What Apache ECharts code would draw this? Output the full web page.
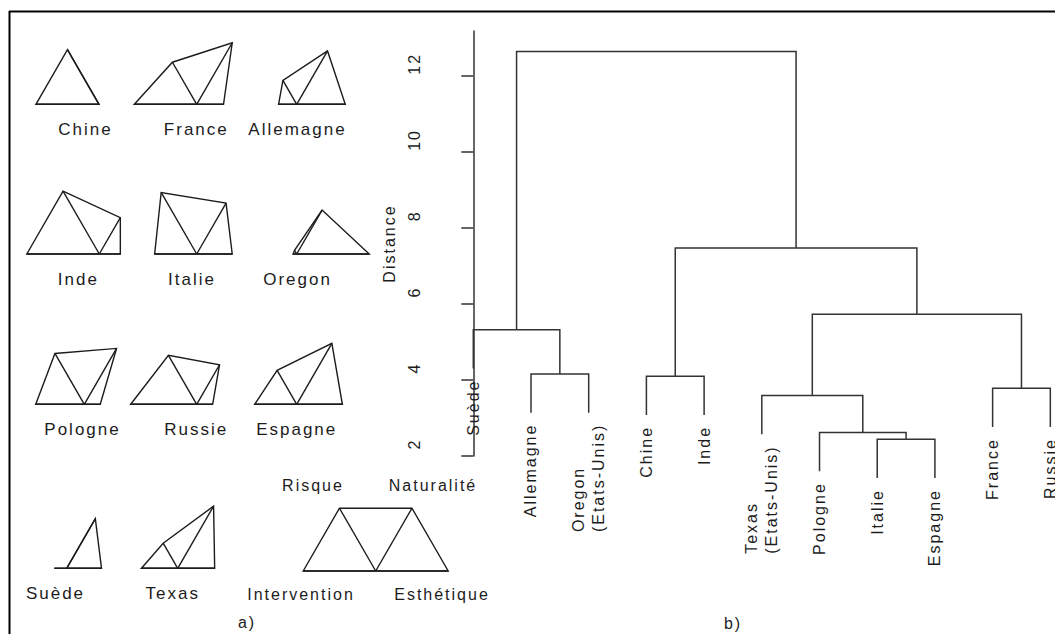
<!DOCTYPE html>
<html>
<head>
<meta charset="utf-8">
<script src="https://cdn.jsdelivr.net/npm/echarts@6/dist/echarts.min.js"></script>
<style>
html,body{margin:0;padding:0;background:#fff;}
#chart{width:1055px;height:634px;}
#chart text{letter-spacing:2px;}
</style>
</head>
<body>
<div id="chart"></div>
<script>
// ---------- a) star glyphs : relative scores (0..1) ----------
const glyphNames   = ['Chine','France','Allemagne','Inde','Italie','Oregon','Pologne','Russie','Espagne','Suède','Texas'];
const intervention = [0.87, 0.86, 0.25, 1.00, 0.58, 0.05, 0.67, 0.91, 0.58, 0.17, 0.50];
const risque       = [0.87, 0.67, 0.38, 1.00, 0.98, 0.06, 0.81, 0.78, 0.54, 0.00, 0.40];
const naturalite   = [0.00, 0.98, 0.85, 0.58, 0.81, 0.70, 0.89, 0.63, 0.97, 0.79, 0.99];
const esthetique   = [0.00, 0.37, 0.67, 0.29, 0.49, 1.00, 0.22, 0.22, 0.63, 0.48, 0.51];
const keyNames     = ['Intervention','Risque','Naturalité','Esthétique'];
const keyValues    = [1, 1, 1, 1];

// ---------- b) dendrogram ----------
const leafLabels  = ['Suède','Allemagne','Oregon\n(Etats-Unis)','Chine','Inde','Texas\n(Etats-Unis)','Pologne','Italie','Espagne','France','Russie'];
// merge children: negative = leaf number (1-based, in plotting order), positive = earlier merge (1-based)
const mergeLeft   = [-8, -7, -6, -10, -4, -2, -1, 3, 5, 7];
const mergeRight  = [-9,  1,  2, -11, -5, -3,  6, 4, 8, 9];
const mergeHeight = [2.44, 2.62, 3.59, 3.78, 4.10, 4.16, 5.32, 5.73, 7.47, 12.64];
const distanceTicks = [2, 4, 6, 8, 10, 12];

// ---------- layout (positions only) ----------
// glyph centre x, baseline y, label centre x  (in the pixel-like overlay axes)
const glyphLayout = [
  [99, 104.3, 85.5], [196.7, 104.3, 196.3], [296.7, 104.3, 297.5],
  [99.3, 254, 78.3], [196.7, 254, 192], [296.7, 254, 297.5],
  [84.3, 404.3, 82.5], [196.7, 404.3, 196.3], [296.7, 404.3, 296.7],
  [66.7, 568.3, 55.5], [177.7, 568.3, 172.7]
];
const keyLayout = { cx: 375.7, cy: 571, labels: [[-74.7, 23], [-62.7, -86], [57.3, -86], [66.3, 23]] };
const GLYPH_R = 72.5;
const LABEL_DY = 25;
const ANGLES = [180, 120, 60, 0]; // Intervention, Risque, Naturalité, Esthétique

const INK = '#1c1c1c';
const FONT = '"Liberation Sans", Arial, Helvetica, sans-serif';

// ---------- dendrogram geometry derived from the merges ----------
const hang = 0.1 * (Math.max(...mergeHeight) - Math.min(...mergeHeight));
const mergeX = [];
const leafEnd = new Array(leafLabels.length).fill(0);
function childX(ref) { return ref < 0 ? (-ref - 1) : mergeX[ref - 1]; }
mergeHeight.forEach((h, m) => {
  mergeX[m] = (childX(mergeLeft[m]) + childX(mergeRight[m])) / 2;
  [mergeLeft[m], mergeRight[m]].forEach(ref => { if (ref < 0) leafEnd[-ref - 1] = h - hang; });
});
function childTop(ref) { return ref < 0 ? leafEnd[-ref - 1] : mergeHeight[ref - 1]; }
const branchData = mergeHeight.map((h, m) => [
  childX(mergeLeft[m]), childTop(mergeLeft[m]),
  childX(mergeRight[m]), childTop(mergeRight[m]), h
]);
const leafData = leafLabels.map((t, i) => [i, leafEnd[i]]);

const glyphData = glyphNames.map((n, i) => [
  glyphLayout[i][0], glyphLayout[i][1],
  intervention[i], risque[i], naturalite[i], esthetique[i], glyphLayout[i][2]
]);
const keyData = [[keyLayout.cx, keyLayout.cy].concat(keyValues)];

// text measurement (for multi-line rotated labels)
const mctx = document.createElement('canvas').getContext('2d');
function textWidth(s, size) {
  mctx.font = size + 'px ' + FONT;
  return mctx.measureText(s).width + 2 * s.length;
}

function starShapes(api, cx, cy, vals) {
  const c = api.coord([cx, cy]);
  const pts = vals.map((v, k) => {
    const a = ANGLES[k] * Math.PI / 180;
    return api.coord([cx + GLYPH_R * v * Math.cos(a), cy - GLYPH_R * v * Math.sin(a)]);
  });
  const st = { fill: 'none', stroke: INK, lineWidth: 1.4 };
  const kids = [{ type: 'polygon', shape: { points: pts }, style: st }];
  pts.forEach(p => kids.push({ type: 'line', shape: { x1: c[0], y1: c[1], x2: p[0], y2: p[1] }, style: st }));
  return kids;
}

const chart = echarts.init(document.getElementById('chart'), null, { renderer: 'svg' });
chart.setOption({
  animation: false,
  backgroundColor: '#fff',
  grid: [
    { left: 0, top: 0, width: 1055, height: 634, outerBoundsMode: 'none' },
    { left: 449, top: 31, width: 606, height: 425, outerBoundsMode: 'none' }
  ],
  xAxis: [
    { gridIndex: 0, type: 'value', min: 0, max: 1055, show: false },
    { gridIndex: 1, type: 'value', min: -0.421, max: 10.081, show: false }
  ],
  yAxis: [
    { gridIndex: 0, type: 'value', min: 0, max: 634, inverse: true, show: false },
    {
      gridIndex: 1, type: 'value', min: 2, max: 13.18,
      name: 'Distance', nameLocation: 'middle', nameGap: 52, nameRotate: 90,
      nameTextStyle: { fontSize: 16, color: INK, fontFamily: FONT },
      axisLine: { show: true, lineStyle: { color: '#333', width: 1.5 } },
      axisTick: { show: true, length: 12, customValues: distanceTicks, lineStyle: { color: '#333', width: 1.5 } },
      axisLabel: { show: true, rotate: 90, margin: 27, fontSize: 16, color: INK, fontFamily: FONT,
                   customValues: distanceTicks, padding: [0, 0, 0, 24] },
      splitLine: { show: false }
    }
  ],
  graphic: [
    { type: 'line', shape: { x1: 9, y1: 11.5, x2: 1055, y2: 11.5 }, style: { stroke: '#000', lineWidth: 2 } },
    { type: 'line', shape: { x1: 9.5, y1: 11, x2: 9.5, y2: 634 }, style: { stroke: '#000', lineWidth: 2 } },
    { type: 'text', x: 247, y: 622, style: { text: 'a)', fontSize: 16, fontFamily: FONT, fill: INK, align: 'center', verticalAlign: 'middle' } },
    { type: 'text', x: 733, y: 623, style: { text: 'b)', fontSize: 16, fontFamily: FONT, fill: INK, align: 'center', verticalAlign: 'middle' } }
  ],
  series: [
    {
      type: 'custom', name: 'glyphs', xAxisIndex: 0, yAxisIndex: 0, data: glyphData,
      renderItem: function (params, api) {
        const cx = api.value(0), cy = api.value(1);
        const kids = starShapes(api, cx, cy, [api.value(2), api.value(3), api.value(4), api.value(5)]);
        const lp = api.coord([api.value(6), cy + LABEL_DY]);
        kids.push({ type: 'text', x: lp[0], y: lp[1],
          style: { text: glyphNames[params.dataIndex], fontSize: 17, fontFamily: FONT, fill: INK, align: 'center', verticalAlign: 'middle' } });
        return { type: 'group', children: kids };
      }
    },
    {
      type: 'custom', name: 'key', xAxisIndex: 0, yAxisIndex: 0, data: keyData,
      renderItem: function (params, api) {
        const cx = api.value(0), cy = api.value(1);
        const kids = starShapes(api, cx, cy, [api.value(2), api.value(3), api.value(4), api.value(5)]);
        keyNames.forEach((n, k) => {
          const p = api.coord([cx + keyLayout.labels[k][0], cy + keyLayout.labels[k][1]]);
          kids.push({ type: 'text', x: p[0], y: p[1],
            style: { text: n, fontSize: 16, fontFamily: FONT, fill: INK, align: 'center', verticalAlign: 'middle' } });
        });
        return { type: 'group', children: kids };
      }
    },
    {
      type: 'custom', name: 'branches', xAxisIndex: 1, yAxisIndex: 1, data: branchData, clip: false,
      renderItem: function (params, api) {
        const xl = api.value(0), yl = api.value(1), xr = api.value(2), yr = api.value(3), h = api.value(4);
        const pts = [api.coord([xl, yl]), api.coord([xl, h]), api.coord([xr, h]), api.coord([xr, yr])];
        return { type: 'polyline', shape: { points: pts }, style: { fill: 'none', stroke: '#333', lineWidth: 1.5 } };
      }
    },
    {
      type: 'custom', name: 'leaves', xAxisIndex: 1, yAxisIndex: 1, data: leafData, clip: false,
      renderItem: function (params, api) {
        const p = api.coord([api.value(0), api.value(1)]);
        const txt = leafLabels[params.dataIndex];
        const gap = 11;
        const lines = txt.split('\n');
        let y, align;
        if (lines.length > 1) {
          y = p[1] + gap + Math.max(...lines.map(l => textWidth(l, 16)));
          align = 'left';
        } else {
          y = p[1] + gap;
          align = 'right';
        }
        return { type: 'text', x: p[0], y: y, rotation: Math.PI / 2,
          style: { text: txt, fontSize: 16, fontFamily: FONT, fill: INK, align: align, verticalAlign: 'middle', lineHeight: 20 } };
      }
    }
  ]
});
</script>
</body>
</html>
